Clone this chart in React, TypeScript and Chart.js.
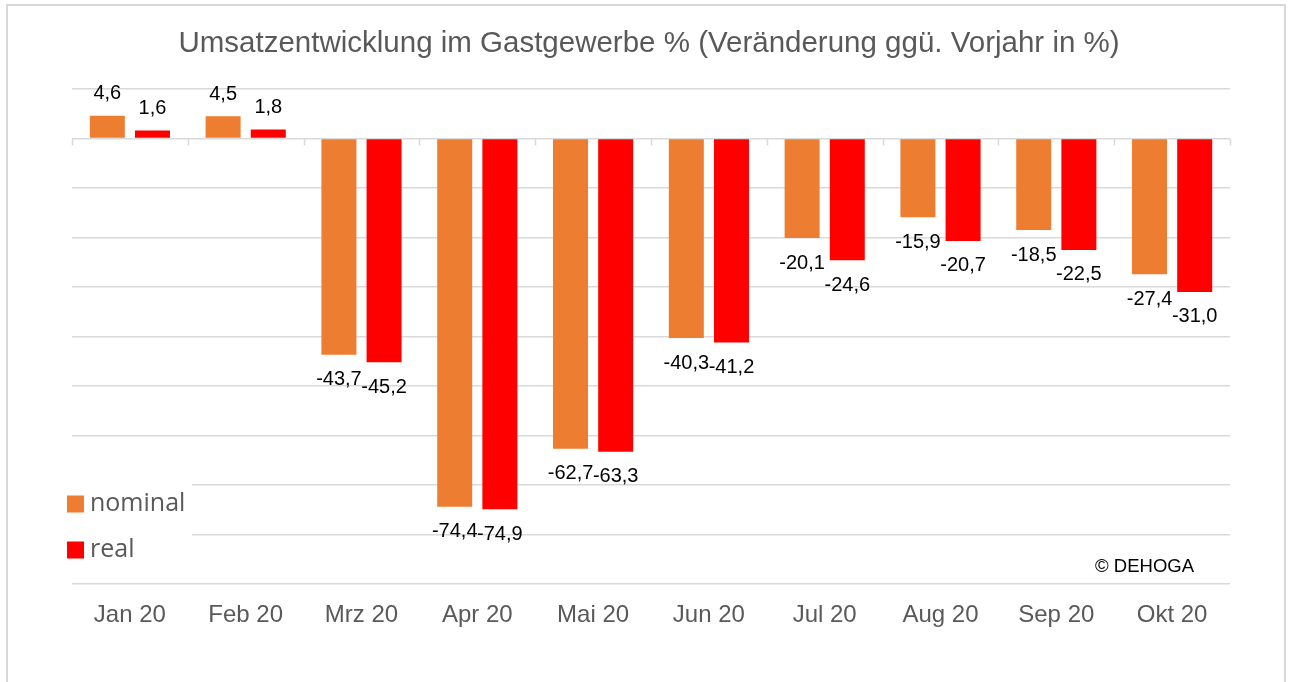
import { useEffect, useRef } from "react";
import { Chart, registerables } from "chart.js";

Chart.register(...registerables);

const categories = ["Jan 20", "Feb 20", "Mrz 20", "Apr 20", "Mai 20", "Jun 20", "Jul 20", "Aug 20", "Sep 20", "Okt 20"];
const seriesNames = ["nominal", "real"];
const nominalValues = [4.6, 4.5, -43.7, -74.4, -62.7, -40.3, -20.1, -15.9, -18.5, -27.4];
const realValues = [1.6, 1.8, -45.2, -74.9, -63.3, -41.2, -24.6, -20.7, -22.5, -31.0];
const titleText = "Umsatzentwicklung im Gastgewerbe % (Veränderung ggü. Vorjahr in %)";
const creditText = "© DEHOGA";
const yMin = -90;
const yMax = 10;
const yStep = 10;

const seriesColors = ["#ED7D31", "#FF0000"];
const gridColor = "#d9d9d9";
const textGray = "#595959";

const fmt = (v: number) => v.toFixed(1).replace(".", ",");

const decorPlugin = {
  id: "decor",
  beforeDatasetsDraw(chart: any) {
    const { ctx, scales } = chart;
    const x = scales.x;
    const y = scales.y;
    const y0 = y.getPixelForValue(0);
    const n = categories.length;
    const w = (x.right - x.left) / n;
    ctx.save();
    ctx.strokeStyle = gridColor;
    ctx.lineWidth = 1.5;
    for (let i = 0; i <= n; i++) {
      const px = Math.round(x.left + i * w) + 0.5;
      ctx.beginPath();
      ctx.moveTo(px, y0);
      ctx.lineTo(px, y0 + 7);
      ctx.stroke();
    }
    ctx.restore();
  },
  afterDatasetsDraw(chart: any) {
    const { ctx, chartArea } = chart;
    ctx.save();
    // data labels
    ctx.font = "20px 'Liberation Sans', Arial, sans-serif";
    ctx.fillStyle = "#000";
    ctx.textAlign = "center";
    ctx.textBaseline = "middle";
    chart.data.datasets.forEach((ds: any, di: number) => {
      const meta = chart.getDatasetMeta(di);
      meta.data.forEach((bar: any, i: number) => {
        const v = ds.data[i];
        const yy = v >= 0 ? bar.y - 22 : bar.y + 25;
        ctx.fillText(fmt(v), bar.x, yy);
      });
    });
    // title
    ctx.font = "29.5px 'Liberation Sans', Arial, sans-serif";
    ctx.fillStyle = textGray;
    ctx.textAlign = "center";
    ctx.fillText(titleText, 649, 43.5);
    // credit
    ctx.font = "18.5px 'Liberation Sans', Arial, sans-serif";
    ctx.fillStyle = "#000";
    ctx.textAlign = "right";
    ctx.fillText(creditText, 1194, 567);
    // legend
    ctx.fillStyle = "#fff";
    ctx.fillRect(chartArea.left - 8, 478, 128, 86);
    const legY = [504, 550];
    ctx.font = "25px 'Open Sans', 'Noto Sans', sans-serif";
    ctx.textAlign = "left";
    seriesNames.forEach((name, i) => {
      ctx.fillStyle = seriesColors[i];
      ctx.fillRect(67, legY[i] - 8.5, 17, 17);
      ctx.fillStyle = textGray;
      ctx.fillText(name, 90, legY[i]);
    });
    ctx.restore();
  },
};

export default function App() {
  const canvasRef = useRef<HTMLCanvasElement | null>(null);

  useEffect(() => {
    if (!canvasRef.current) return;
    const chart = new Chart(canvasRef.current, {
      type: "bar",
      data: {
        labels: categories,
        datasets: [
          {
            label: seriesNames[0],
            data: nominalValues,
            backgroundColor: seriesColors[0],
            categoryPercentage: 0.78,
            barPercentage: 0.775,
          },
          {
            label: seriesNames[1],
            data: realValues,
            backgroundColor: seriesColors[1],
            categoryPercentage: 0.78,
            barPercentage: 0.775,
          },
        ],
      },
      options: {
        responsive: false,
        animation: false,
        devicePixelRatio: 1,
        layout: { padding: { left: 72, right: 63, top: 89, bottom: 0 } },
        plugins: {
          legend: { display: false },
          title: { display: false },
          tooltip: { enabled: false },
        },
        scales: {
          x: {
            grid: { display: false, drawTicks: false },
            border: { display: false },
            ticks: {
              color: textGray,
              font: { family: "'Liberation Sans', Arial, sans-serif", size: 24 },
              padding: 17,
              maxRotation: 0,
              autoSkip: false,
            },
            afterFit(scale: any) {
              scale.height = 98;
            },
          },
          y: {
            min: yMin,
            max: yMax,
            ticks: { display: false, stepSize: yStep },
            grid: { color: gridColor, lineWidth: 1.5, drawTicks: false },
            border: { display: false },
            afterFit(scale: any) {
              scale.width = 0;
            },
          },
        },
      },
      plugins: [decorPlugin],
    });
    return () => chart.destroy();
  }, []);

  return (
    <div style={{ position: "fixed", left: 0, top: 0, width: 1293, height: 682, background: "#fff", overflow: "hidden" }}>
      <div
        style={{
          position: "absolute",
          left: 6,
          top: 4,
          width: 1280,
          height: 700,
          border: "2px solid #d9d9d9",
          boxSizing: "border-box",
        }}
      />
      <canvas ref={canvasRef} width={1293} height={682} style={{ position: "absolute", left: 0, top: 0 }} />
    </div>
  );
}
